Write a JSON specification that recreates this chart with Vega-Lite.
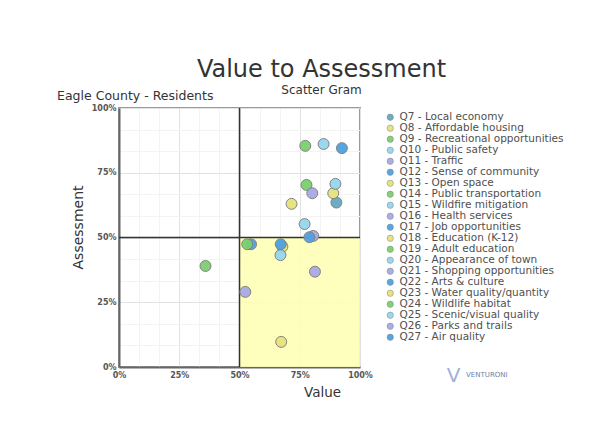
{
  "$schema": "https://vega.github.io/schema/vega-lite/v6.json",
  "width": 241,
  "height": 259,
  "autosize": {"type": "none"},
  "padding": {"top": 108, "left": 119, "right": 242, "bottom": 77},
  "background": "white",
  "title": {
    "text": "Value to Assessment",
    "subtitle": "Scatter Gram",
    "anchor": "middle",
    "frame": "group",
    "dx": 82,
    "fontSize": 24,
    "font": "DejaVu Sans",
    "fontWeight": "normal",
    "color": "#333333",
    "subtitleFontSize": 12,
    "subtitleFont": "DejaVu Sans",
    "subtitleColor": "#333333",
    "subtitlePadding": 3,
    "offset": -6
  },
  "config": {
    "view": {"stroke": "#9a9a9a", "strokeWidth": 2},
    "font": "DejaVu Sans",
    "axis": {"labelOverlap": false}
  },
  "resolve": {"axis": {"x": "independent", "y": "independent"}},
  "layer": [
    {
      "data": {"values": [{"region": "Value high, assessment low"}]},
      "mark": {"type": "rect", "color": "#ffffb6", "opacity": 0.9},
      "encoding": {
        "x": {
          "datum": 0.5,
          "type": "quantitative",
          "axis": {
            "orient": "bottom",
            "title": null,
            "values": [0.0833333, 0.1666667, 0.3333333, 0.4166667, 0.5833333, 0.6666667, 0.8333333, 0.9166667],
            "labels": false,
            "ticks": false,
            "domain": false,
            "grid": true,
            "gridColor": "#f3f3f3"
          }
        },
        "x2": {"datum": 1},
        "y": {
          "datum": 0,
          "type": "quantitative",
          "axis": {
            "orient": "left",
            "title": null,
            "values": [0.0833333, 0.1666667, 0.3333333, 0.4166667, 0.5833333, 0.6666667, 0.8333333, 0.9166667],
            "labels": false,
            "ticks": false,
            "domain": false,
            "grid": true,
            "gridColor": "#f3f3f3"
          }
        },
        "y2": {"datum": 0.5}
      }
    },
    {
      "data": {"values": [{"line": "mid"}]},
      "mark": {"type": "rule", "color": "#333333", "strokeWidth": 1.5},
      "encoding": {"x": {"datum": 0.5, "type": "quantitative", "axis": null}}
    },
    {
      "data": {"values": [{"line": "mid"}]},
      "mark": {"type": "rule", "color": "#333333", "strokeWidth": 1.5},
      "encoding": {"y": {"datum": 0.5, "type": "quantitative", "axis": null}}
    },
    {
      "data": {
        "values": [
          {"question": "Q7 - Local economy", "value": 0.902, "assessment": 0.635},
          {"question": "Q8 - Affordable housing", "value": 0.673, "assessment": 0.097},
          {"question": "Q9 - Recreational opportunities", "value": 0.773, "assessment": 0.854},
          {"question": "Q10 - Public safety", "value": 0.849, "assessment": 0.861},
          {"question": "Q11 - Traffic", "value": 0.524, "assessment": 0.29},
          {"question": "Q12 - Sense of community", "value": 0.925, "assessment": 0.845},
          {"question": "Q13 - Open space", "value": 0.716, "assessment": 0.63},
          {"question": "Q14 - Public transportation", "value": 0.778, "assessment": 0.703},
          {"question": "Q15 - Wildfire mitigation", "value": 0.77, "assessment": 0.552},
          {"question": "Q16 - Health services", "value": 0.806, "assessment": 0.506},
          {"question": "Q17 - Job opportunities", "value": 0.548, "assessment": 0.474},
          {"question": "Q18 - Education (K-12)", "value": 0.678, "assessment": 0.465},
          {"question": "Q19 - Adult education", "value": 0.359, "assessment": 0.39},
          {"question": "Q20 - Appearance of town", "value": 0.67, "assessment": 0.432},
          {"question": "Q21 - Shopping opportunities", "value": 0.813, "assessment": 0.368},
          {"question": "Q22 - Arts & culture", "value": 0.671, "assessment": 0.474},
          {"question": "Q23 - Water quality/quantity", "value": 0.889, "assessment": 0.671},
          {"question": "Q24 - Wildlife habitat", "value": 0.532, "assessment": 0.474},
          {"question": "Q25 - Scenic/visual quality", "value": 0.898, "assessment": 0.707},
          {"question": "Q26 - Parks and trails", "value": 0.802, "assessment": 0.671},
          {"question": "Q27 - Air quality", "value": 0.79, "assessment": 0.501}
        ]
      },
      "mark": {"type": "point", "filled": true, "opacity": 0.95, "stroke": "#7d7d7d", "strokeWidth": 1},
      "encoding": {
        "x": {
          "field": "value",
          "type": "quantitative",
          "scale": {"domain": [0, 1], "nice": false},
          "axis": {
            "orient": "bottom",
            "title": "Value",
            "values": [0, 0.25, 0.5, 0.75, 1],
            "format": ".0%",
            "labelOverlap": false,
            "labelFlush": false,
            "grid": true,
            "gridColor": "#e2e2e2",
            "ticks": false,
            "domainColor": "#666666",
            "domainWidth": 2,
            "labelFontSize": 8,
            "labelFontWeight": "bold",
            "labelColor": "#555555",
            "labelPadding": 4,
            "titleFontSize": 13.5,
            "titleFontWeight": "normal",
            "titleColor": "#333333",
            "titleX": 203,
            "titleY": 18
          }
        },
        "y": {
          "field": "assessment",
          "type": "quantitative",
          "scale": {"domain": [0, 1], "nice": false},
          "axis": {
            "orient": "left",
            "title": "Assessment",
            "values": [0, 0.25, 0.5, 0.75, 1],
            "format": ".0%",
            "labelOverlap": false,
            "labelFlush": false,
            "grid": true,
            "gridColor": "#e2e2e2",
            "ticks": false,
            "domainColor": "#666666",
            "domainWidth": 2,
            "labelFontSize": 8,
            "labelFontWeight": "bold",
            "labelColor": "#555555",
            "labelPadding": 3,
            "titleFontSize": 14,
            "titleFontWeight": "normal",
            "titleColor": "#333333",
            "titleX": -34,
            "titleY": 119
          }
        },
        "color": {
          "field": "question",
          "type": "nominal",
          "scale": {
            "domain": ["Q7 - Local economy", "Q8 - Affordable housing", "Q9 - Recreational opportunities", "Q10 - Public safety", "Q11 - Traffic", "Q12 - Sense of community", "Q13 - Open space", "Q14 - Public transportation", "Q15 - Wildfire mitigation", "Q16 - Health services", "Q17 - Job opportunities", "Q18 - Education (K-12)", "Q19 - Adult education", "Q20 - Appearance of town", "Q21 - Shopping opportunities", "Q22 - Arts & culture", "Q23 - Water quality/quantity", "Q24 - Wildlife habitat", "Q25 - Scenic/visual quality", "Q26 - Parks and trails", "Q27 - Air quality"],
            "range": ["#66a8bf", "#e6e27a", "#7bd06e", "#95d6f0", "#a8a9e6", "#4ea2e2", "#e6e27a", "#7bd06e", "#95d6f0", "#a8a9e6", "#4ea2e2", "#e6e27a", "#7bd06e", "#95d6f0", "#a8a9e6", "#4ea2e2", "#e6e27a", "#7bd06e", "#95d6f0", "#a8a9e6", "#4ea2e2"]
          },
          "legend": {
            "title": null,
            "orient": "right",
            "offset": 21,
            "padding": 4,
            "symbolType": "circle",
            "symbolSize": 40,
            "symbolStrokeWidth": 0.5,
            "labelFontSize": 10.5,
            "labelColor": "#505050",
            "labelLimit": 300,
            "labelOffset": 4,
            "rowPadding": -1
          }
        },
        "size": {"value": 120}
      }
    },
    {
      "data": {"values": [{"note": "Eagle County - Residents"}]},
      "mark": {"type": "text", "align": "left", "baseline": "alphabetic", "fontSize": 12.5, "color": "#333333"},
      "encoding": {
        "x": {"datum": -0.257, "type": "quantitative", "axis": null},
        "y": {"datum": 1.03, "type": "quantitative", "axis": null},
        "text": {"field": "note"}
      }
    },
    {
      "data": {"values": [{"note": "V"}]},
      "mark": {"type": "text", "align": "left", "baseline": "middle", "fontSize": 20, "color": "#9fb3d6"},
      "encoding": {
        "x": {"datum": 1.36, "type": "quantitative", "axis": null},
        "y": {"datum": -0.035, "type": "quantitative", "axis": null},
        "text": {"field": "note"}
      }
    },
    {
      "data": {"values": [{"note": "VENTURONI"}]},
      "mark": {"type": "text", "align": "left", "baseline": "middle", "fontSize": 7, "color": "#6b7fa6"},
      "encoding": {
        "x": {"datum": 1.44, "type": "quantitative", "axis": null},
        "y": {"datum": -0.03, "type": "quantitative", "axis": null},
        "text": {"field": "note"}
      }
    }
  ]
}
